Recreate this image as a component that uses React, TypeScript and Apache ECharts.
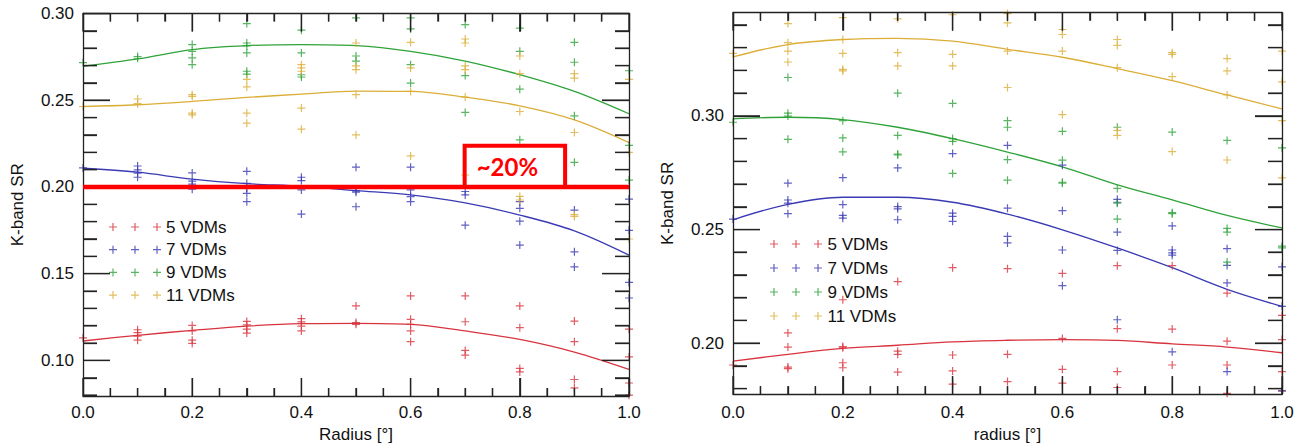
import React, { useEffect, useRef } from "react";
import * as echarts from "echarts";

// ---------- categories / ticks ----------
const seriesNames = ["5 VDMs", "7 VDMs", "9 VDMs", "11 VDMs"];
const fitRadius = [0, 0.1, 0.2, 0.3, 0.4, 0.5, 0.6, 0.7, 0.8, 0.9, 1.0];
const xMajor = [0, 0.2, 0.4, 0.6, 0.8, 1.0];
const xMinor = [0.05, 0.1, 0.15, 0.25, 0.3, 0.35, 0.45, 0.5, 0.55, 0.65, 0.7, 0.75, 0.85, 0.9, 0.95];
const leftYMajor = [0.1, 0.15, 0.2, 0.25, 0.3];
const leftYMinor = [0.08, 0.09, 0.11, 0.12, 0.13, 0.14, 0.16, 0.17, 0.18, 0.19, 0.21, 0.22, 0.23, 0.24, 0.26, 0.27, 0.28, 0.29];
const rightYMajor = [0.2, 0.25, 0.3];
const rightYMinor = [0.18, 0.19, 0.21, 0.22, 0.23, 0.24, 0.26, 0.27, 0.28, 0.29, 0.31, 0.32, 0.33, 0.34];

// ---------- left panel measurements ----------
const left5: number[][] = [
  [0, 0.113],
  [0.1, 0.1177], [0.1, 0.116], [0.1, 0.114], [0.1, 0.1117],
  [0.2, 0.1202], [0.2, 0.117], [0.2, 0.1117], [0.2, 0.1098],
  [0.3, 0.1225], [0.3, 0.1205], [0.3, 0.118], [0.3, 0.1158],
  [0.4, 0.1241], [0.4, 0.1222], [0.4, 0.1198], [0.4, 0.117],
  [0.5, 0.1314], [0.5, 0.1218], [0.5, 0.1208],
  [0.6, 0.1372], [0.6, 0.1237], [0.6, 0.1208], [0.6, 0.117], [0.6, 0.1108],
  [0.7, 0.1372], [0.7, 0.1223], [0.7, 0.1058], [0.7, 0.1031],
  [0.8, 0.1314], [0.8, 0.1189], [0.8, 0.0954], [0.8, 0.0934],
  [0.9, 0.1227], [0.9, 0.1108], [0.9, 0.089], [0.9, 0.0842],
  [1.0, 0.118], [1.0, 0.102], [1.0, 0.087], [1.0, 0.080],
];
const left7: number[][] = [
  [0, 0.211],
  [0.1, 0.2121], [0.1, 0.2098], [0.1, 0.208], [0.1, 0.2056],
  [0.2, 0.2081], [0.2, 0.2034], [0.2, 0.2016], [0.2, 0.1987],
  [0.3, 0.209], [0.3, 0.2021], [0.3, 0.1992], [0.3, 0.1963], [0.3, 0.1915],
  [0.4, 0.2056], [0.4, 0.2037], [0.4, 0.1983], [0.4, 0.1844],
  [0.5, 0.2114], [0.5, 0.1978], [0.5, 0.197], [0.5, 0.1886],
  [0.6, 0.2114], [0.6, 0.1983], [0.6, 0.1944], [0.6, 0.1915],
  [0.7, 0.1974], [0.7, 0.1954], [0.7, 0.178],
  [0.8, 0.1915], [0.8, 0.1877], [0.8, 0.1803], [0.8, 0.1665],
  [0.9, 0.1867], [0.9, 0.1626], [0.9, 0.1539],
  [1.0, 0.193], [1.0, 0.175], [1.0, 0.145], [1.0, 0.136],
];
const left9: number[][] = [
  [0, 0.2717],
  [0.1, 0.2752], [0.1, 0.2742],
  [0.2, 0.2821], [0.2, 0.2782], [0.2, 0.2744], [0.2, 0.2705],
  [0.3, 0.2942], [0.3, 0.283], [0.3, 0.2813], [0.3, 0.2773], [0.3, 0.2667], [0.3, 0.265],
  [0.4, 0.2904], [0.4, 0.2773], [0.4, 0.2647], [0.4, 0.2634],
  [0.5, 0.2975], [0.5, 0.2755], [0.5, 0.2726],
  [0.6, 0.2975], [0.6, 0.2911], [0.6, 0.2705], [0.6, 0.2599],
  [0.7, 0.2936], [0.7, 0.2642], [0.7, 0.243],
  [0.8, 0.2916], [0.8, 0.2782], [0.8, 0.2564], [0.8, 0.2272],
  [0.9, 0.2834], [0.9, 0.2719], [0.9, 0.241], [0.9, 0.2142],
  [1.0, 0.267], [1.0, 0.224], [1.0, 0.204],
];
const left11: number[][] = [
  [0, 0.2464],
  [0.1, 0.2507], [0.1, 0.248],
  [0.2, 0.2532], [0.2, 0.2522], [0.2, 0.2426], [0.2, 0.2416],
  [0.3, 0.262], [0.3, 0.2577], [0.3, 0.2426], [0.3, 0.2368],
  [0.4, 0.2705], [0.4, 0.2686], [0.4, 0.2667], [0.4, 0.2455], [0.4, 0.2333],
  [0.5, 0.283], [0.5, 0.2698], [0.5, 0.2676], [0.5, 0.2532], [0.5, 0.23],
  [0.6, 0.2834], [0.6, 0.2686], [0.6, 0.2551], [0.6, 0.2179],
  [0.7, 0.2853], [0.7, 0.283], [0.7, 0.2698], [0.7, 0.2676], [0.7, 0.2518], [0.7, 0.2069],
  [0.8, 0.2755], [0.8, 0.2653], [0.8, 0.2435], [0.8, 0.1946], [0.8, 0.1925],
  [0.9, 0.2653], [0.9, 0.2628], [0.9, 0.2314], [0.9, 0.184], [0.9, 0.183],
  [1.0, 0.262], [1.0, 0.22], [1.0, 0.17],
];
const leftFit5 = [0.1112, 0.1145, 0.1173, 0.1198, 0.1212, 0.1214, 0.1208, 0.117, 0.1121, 0.1048, 0.0948];
const leftFit7 = [0.2108, 0.2085, 0.2045, 0.2019, 0.2004, 0.1979, 0.1954, 0.1908, 0.1838, 0.1747, 0.1607];
const leftFit9 = [0.2696, 0.2738, 0.2792, 0.2815, 0.2821, 0.2815, 0.2782, 0.2726, 0.2647, 0.2551, 0.2422];
const leftFit11 = [0.2464, 0.2474, 0.2493, 0.2516, 0.2535, 0.2553, 0.2551, 0.2518, 0.2468, 0.2387, 0.2256];
const thresholdLine = [[0, 0.2], [1, 0.2]];
const noteBox = { x0: 0.699, x1: 0.883, y0: 0.2, y1: 0.2237, text: "~20%" };

// ---------- right panel measurements ----------
const right5: number[][] = [
  [0, 0.1904],
  [0.1, 0.2045], [0.1, 0.1983], [0.1, 0.1895], [0.1, 0.1888],
  [0.2, 0.2191], [0.2, 0.1985], [0.2, 0.198], [0.2, 0.1914], [0.2, 0.1892],
  [0.3, 0.2271], [0.3, 0.1965], [0.3, 0.1951], [0.3, 0.1873],
  [0.4, 0.2332], [0.4, 0.1948], [0.4, 0.1878], [0.4, 0.182],
  [0.5, 0.2328], [0.5, 0.1951], [0.5, 0.1831],
  [0.6, 0.2307], [0.6, 0.2021], [0.6, 0.1885], [0.6, 0.1824],
  [0.7, 0.2341], [0.7, 0.2064], [0.7, 0.1875], [0.7, 0.1805],
  [0.8, 0.2341], [0.8, 0.2062], [0.8, 0.1904],
  [0.9, 0.222], [0.9, 0.2009], [0.9, 0.1904], [0.9, 0.1779],
  [1.0, 0.2122], [1.0, 0.2016], [1.0, 0.1875], [1.0, 0.179],
];
const right7: number[][] = [
  [0, 0.2546],
  [0.1, 0.2704], [0.1, 0.263], [0.1, 0.2616], [0.1, 0.257],
  [0.2, 0.2728], [0.2, 0.261], [0.2, 0.2562], [0.2, 0.255],
  [0.3, 0.2771], [0.3, 0.2601], [0.3, 0.2591], [0.3, 0.2543],
  [0.4, 0.2834], [0.4, 0.2572], [0.4, 0.2558], [0.4, 0.2536],
  [0.5, 0.287], [0.5, 0.2594], [0.5, 0.247], [0.5, 0.2441],
  [0.6, 0.2783], [0.6, 0.2583], [0.6, 0.241], [0.6, 0.2253],
  [0.7, 0.2633], [0.7, 0.262], [0.7, 0.2489], [0.7, 0.2408], [0.7, 0.2103],
  [0.8, 0.2516], [0.8, 0.241], [0.8, 0.2397], [0.8, 0.2387], [0.8, 0.1962],
  [0.9, 0.2416], [0.9, 0.2342], [0.9, 0.2265], [0.9, 0.1875],
  [1.0, 0.2336], [1.0, 0.2162], [1.0, 0.179],
];
const right9: number[][] = [
  [0, 0.2972],
  [0.1, 0.3169], [0.1, 0.3012], [0.1, 0.2999], [0.1, 0.2897],
  [0.2, 0.2979], [0.2, 0.2903], [0.2, 0.2842],
  [0.3, 0.31], [0.3, 0.2914], [0.3, 0.2832], [0.3, 0.2828],
  [0.4, 0.3055], [0.4, 0.29], [0.4, 0.2888], [0.4, 0.2747],
  [0.5, 0.2979], [0.5, 0.295], [0.5, 0.2808], [0.5, 0.2717],
  [0.6, 0.2932], [0.6, 0.2805], [0.6, 0.2708], [0.6, 0.2704],
  [0.7, 0.295], [0.7, 0.2681], [0.7, 0.2616], [0.7, 0.2546],
  [0.8, 0.2929], [0.8, 0.2574], [0.8, 0.257],
  [0.9, 0.2892], [0.9, 0.2505], [0.9, 0.2489], [0.9, 0.2357],
  [1.0, 0.2859], [1.0, 0.2427], [1.0, 0.2419],
];
const right11: number[][] = [
  [0, 0.3275],
  [0.1, 0.3406], [0.1, 0.3322], [0.1, 0.3285], [0.1, 0.3237],
  [0.2, 0.3432], [0.2, 0.3336], [0.2, 0.3275], [0.2, 0.3205], [0.2, 0.3198],
  [0.3, 0.3427], [0.3, 0.3278], [0.3, 0.322],
  [0.4, 0.3445], [0.4, 0.3271], [0.4, 0.322],
  [0.5, 0.345], [0.5, 0.3409], [0.5, 0.3285], [0.5, 0.3125],
  [0.6, 0.338], [0.6, 0.3358], [0.6, 0.3285], [0.6, 0.3006],
  [0.7, 0.3336], [0.7, 0.331], [0.7, 0.3212], [0.7, 0.2936], [0.7, 0.2914],
  [0.8, 0.3278], [0.8, 0.3271], [0.8, 0.3173], [0.8, 0.2843],
  [0.9, 0.3252], [0.9, 0.3198], [0.9, 0.3092], [0.9, 0.2806],
  [1.0, 0.3285], [1.0, 0.315], [1.0, 0.2979], [1.0, 0.2727],
];
const rightFit5 = [0.1921, 0.1951, 0.1977, 0.1991, 0.2006, 0.2013, 0.2016, 0.2012, 0.1997, 0.1983, 0.1958];
const rightFit7 = [0.2543, 0.2611, 0.2642, 0.2642, 0.262, 0.2568, 0.2499, 0.2419, 0.2332, 0.2237, 0.2162];
const rightFit9 = [0.2987, 0.2994, 0.2984, 0.295, 0.29, 0.2841, 0.2776, 0.2697, 0.2631, 0.2562, 0.2507];
const rightFit11 = [0.326, 0.3314, 0.3336, 0.3341, 0.3329, 0.3293, 0.3258, 0.3208, 0.3155, 0.3092, 0.3031];

// ---------- styles / layout ----------
const COLORS = ["#d8343f", "#3a3ab4", "#2fa33a", "#dcae38"];
const FONT = "'Liberation Sans', Arial, Helvetica, sans-serif";
const AXIS_COLOR = "#222";
const PLUS = "path://M0,3.4H8V4.6H0Z M3.4,0H4.6V8H3.4Z";
const LEGEND_ICON =
  "path://M0,3.4H8V4.6H0Z M3.4,0H4.6V8H3.4Z M22,3.4H30V4.6H22Z M25.4,0H26.6V8H25.4Z M44,3.4H52V4.6H44Z M47.4,0H48.6V8H47.4Z";
const TICK_LEN = { xMajor: 18, xMinor: 8, yMajor: 27, yMinor: 14 };
const W = 1305;
const H = 448;
const leftGrid = { left: 83, right: W - 629, top: 13.5, bottom: 52 };
const rightGrid = { left: 733, right: W - 1282, top: 12.7, bottom: 50.7 };
const leftRange = [0.0795, 0.3];
const rightRange = [0.1776, 0.3454];

const ls = () => ({ color: AXIS_COLOR, width: 1.3 });
const textStyle = () => ({ fontSize: 17, color: "#111", fontFamily: FONT });

function xAxes(gridIndex: number, name: string, nameGap: number, labelMargin: number) {
  const mk = (position: string, labels: boolean): any => ({
    type: "value",
    gridIndex,
    min: 0,
    max: 1,
    interval: 0.2,
    position,
    z: 5,
    splitLine: { lineStyle: { opacity: 0 } },
    axisLine: { show: true, onZero: false, lineStyle: ls() },
    axisTick: { show: true, inside: true, length: TICK_LEN.xMajor, lineStyle: ls() },
    minorTick: { show: true, splitNumber: 4, length: TICK_LEN.xMinor, lineStyle: ls() },
    axisLabel: labels
      ? { show: true, margin: labelMargin, ...textStyle(), formatter: (v: number) => v.toFixed(1) }
      : { show: false },
    ...(labels ? { name, nameLocation: "middle", nameGap, nameTextStyle: textStyle() } : {}),
  });
  return [mk("bottom", true), mk("top", false)];
}

function yAxes(gridIndex: number, min: number, max: number, majors: number[], minors: number[]) {
  const mk = (position: string, major: boolean, labels: boolean): any => ({
    type: "value",
    gridIndex,
    min,
    max,
    position,
    z: 5,
    splitLine: { lineStyle: { opacity: 0 } },
    axisLine: { show: major, onZero: false, lineStyle: ls() },
    axisTick: {
      show: true,
      inside: true,
      length: major ? TICK_LEN.yMajor : TICK_LEN.yMinor,
      customValues: (major ? majors : minors).slice(),
      lineStyle: ls(),
    },
    axisLabel: labels
      ? { show: true, customValues: majors.slice(), margin: 9, ...textStyle(), formatter: (v: number) => v.toFixed(2) }
      : { show: false },
    ...(labels ? { name: "K-band SR", nameLocation: "middle", nameGap: 57, nameTextStyle: textStyle() } : {}),
  });
  return [mk("left", true, true), mk("left", false, false), mk("right", true, false), mk("right", false, false)];
}

// box tick marks on all four sides, drawn as a broken line through the panel's own scales
function tickLines(xi: number, yi: number, grid: any, range: number[], yMaj: number[], yMinr: number[]) {
  const plotW = W - grid.left - grid.right;
  const plotH = H - grid.top - grid.bottom;
  const kx = 1 / plotW;
  const ky = (range[1] - range[0]) / plotH;
  const d: any[] = [];
  const seg = (a: number[], b: number[]) => { d.push(a, b, ["-", "-"]); };
  xMajor.forEach((v) => {
    seg([v, range[0]], [v, range[0] + TICK_LEN.xMajor * ky]);
    seg([v, range[1]], [v, range[1] - TICK_LEN.xMajor * ky]);
  });
  xMinor.forEach((v) => {
    seg([v, range[0]], [v, range[0] + TICK_LEN.xMinor * ky]);
    seg([v, range[1]], [v, range[1] - TICK_LEN.xMinor * ky]);
  });
  yMaj.forEach((v) => {
    seg([0, v], [TICK_LEN.yMajor * kx, v]);
    seg([1, v], [1 - TICK_LEN.yMajor * kx, v]);
  });
  yMinr.forEach((v) => {
    seg([0, v], [TICK_LEN.yMinor * kx, v]);
    seg([1, v], [1 - TICK_LEN.yMinor * kx, v]);
  });
  return {
    type: "line",
    name: "ticks",
    data: d,
    xAxisIndex: xi,
    yAxisIndex: yi,
    showSymbol: false,
    connectNulls: false,
    silent: true,
    z: 4,
    lineStyle: { color: AXIS_COLOR, width: 1.3 },
    itemStyle: { color: AXIS_COLOR },
  };
}

function scatter(name: string, data: number[][], color: string, xi: number, yi: number) {
  return {
    type: "scatter",
    name,
    data,
    xAxisIndex: xi,
    yAxisIndex: yi,
    symbol: PLUS,
    symbolSize: 8,
    itemStyle: { color },
    silent: true,
    z: 3,
  };
}

function fit(name: string, values: number[], color: string, xi: number, yi: number) {
  return {
    type: "line",
    name: name + " fit",
    data: fitRadius.map((r, i) => [r, values[i]]),
    xAxisIndex: xi,
    yAxisIndex: yi,
    smooth: 0.35,
    showSymbol: false,
    silent: true,
    lineStyle: { color, width: 1.3 },
    itemStyle: { color },
    z: 2,
  };
}

function legend(left: number, top: number, gap: number, width: number) {
  return {
    orient: "vertical",
    left,
    top,
    padding: 0,
    itemWidth: width,
    itemHeight: 8,
    itemGap: gap,
    data: seriesNames.map((n) => ({ name: n, icon: LEGEND_ICON })),
    textStyle: textStyle(),
  };
}

export default function App() {
  const ref = useRef<HTMLDivElement>(null);

  useEffect(() => {
    if (!ref.current) return;
    const chart = echarts.init(ref.current, undefined, { renderer: "svg" });
    const leftPts = [left5, left7, left9, left11];
    const leftFits = [leftFit5, leftFit7, leftFit9, leftFit11];
    const rightPts = [right5, right7, right9, right11];
    const rightFits = [rightFit5, rightFit7, rightFit9, rightFit11];

    const series: any[] = [];
    seriesNames.forEach((n, i) => {
      series.push(fit(n, leftFits[i], COLORS[i], 0, 0));
      series.push(scatter(n, leftPts[i], COLORS[i], 0, 0));
      series.push(fit(n, rightFits[i], COLORS[i], 2, 4));
      series.push(scatter(n, rightPts[i], COLORS[i], 2, 4));
    });
    series.push(tickLines(0, 0, leftGrid, leftRange, leftYMajor, leftYMinor));
    series.push(tickLines(2, 4, rightGrid, rightRange, rightYMajor, rightYMinor));
    series.push({
      type: "line",
      name: "threshold",
      data: thresholdLine,
      xAxisIndex: 0,
      yAxisIndex: 0,
      showSymbol: false,
      silent: true,
      z: 10,
      lineStyle: { color: "#ff0000", width: 4.5 },
    });
    series.push({
      type: "line",
      name: "note box",
      data: [
        [noteBox.x0, noteBox.y0],
        [noteBox.x0, noteBox.y1],
        [noteBox.x1, noteBox.y1],
        [noteBox.x1, noteBox.y0],
        [noteBox.x0, noteBox.y0],
      ],
      xAxisIndex: 0,
      yAxisIndex: 0,
      showSymbol: false,
      silent: true,
      z: 10,
      lineStyle: { color: "#ff0000", width: 4, join: "miter" },
    });

    chart.setOption({
      animation: false,
      grid: [leftGrid, rightGrid],
      xAxis: [...xAxes(0, "Radius [°]", 28, 8), ...xAxes(1, "radius [°]", 31, 10)],
      yAxis: [
        ...yAxes(0, leftRange[0], leftRange[1], leftYMajor, leftYMinor),
        ...yAxes(1, rightRange[0], rightRange[1], rightYMajor, rightYMinor),
      ],
      legend: [legend(109, 218.5, 5.7, 52), legend(770, 235.5, 7, 53)],
      series,
    });

    // annotation text placed at the note box through the left panel's scales
    const p = chart.convertToPixel({ xAxisIndex: 0, yAxisIndex: 0 } as any, [
      noteBox.x0,
      (noteBox.y0 + noteBox.y1) / 2,
    ]) as number[];
    if (p && isFinite(p[0])) {
      chart.setOption({
        graphic: [
          {
            type: "text",
            x: p[0] + 12,
            y: p[1],
            z: 20,
            silent: true,
            style: {
              text: noteBox.text,
              fill: "#ff0000",
              font: "bold 24px Lato, 'Open Sans', sans-serif",
              verticalAlign: "middle",
              align: "left",
            },
          },
        ],
      });
    }
    return () => chart.dispose();
  }, []);

  return (
    <div
      ref={ref}
      style={{ position: "fixed", left: 0, top: 0, width: W, height: H, background: "#fff" }}
    />
  );
}
